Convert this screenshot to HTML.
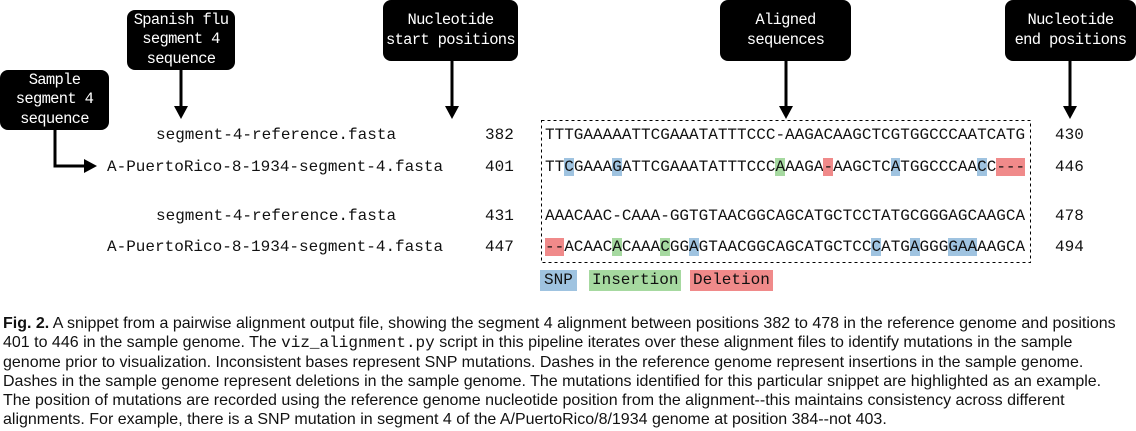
<!DOCTYPE html>
<html><head><meta charset="utf-8"><style>
body{margin:0;width:1136px;height:431px;position:relative;background:#fff;overflow:hidden;font-family:"Liberation Mono",monospace;}
.box{position:absolute;background:#000;color:#fff;border-radius:8px;font-size:15.5px;letter-spacing:-0.7px;line-height:19.5px;text-align:center;display:flex;align-items:center;justify-content:center;white-space:nowrap;}
.t{position:absolute;font-size:16px;line-height:20px;white-space:pre;color:#111;}
.b{background:#9fc3e0}.g{background:#a6d9a0}.r{background:#f08a8a}
.cap{position:absolute;left:3px;top:314px;width:1133px;font-family:"Liberation Sans",sans-serif;font-size:16px;line-height:19px;color:#111;white-space:nowrap;}
.cap code{font-family:"Liberation Mono",monospace;font-size:16px;}
</style></head><body>
<div class="box" style="left:127px;top:10px;width:108px;height:60px">Spanish flu<br>segment 4<br>sequence</div>
<div class="box" style="left:0;top:70px;width:109px;height:60px">Sample<br>segment 4<br>sequence</div>
<div class="box" style="left:383px;top:0;width:135px;height:61px">Nucleotide<br>start positions</div>
<div class="box" style="left:720px;top:0;width:131px;height:61px">Aligned<br>sequences</div>
<div class="box" style="left:1005px;top:0;width:131px;height:61px">Nucleotide<br>end positions</div>
<svg style="position:absolute;left:0;top:0" width="1136" height="431">
<g stroke="#000" stroke-width="3" fill="none">
<line x1="181" y1="70" x2="181" y2="110"/>
<line x1="452" y1="61" x2="452" y2="110"/>
<line x1="786" y1="61" x2="786" y2="110"/>
<line x1="1070" y1="61" x2="1070" y2="110"/>
<polyline points="55,130 55,166 86,166"/>
</g>
<g fill="#000">
<polygon points="174,106 188,106 181,119"/>
<polygon points="445,106 459,106 452,119"/>
<polygon points="779,106 793,106 786,119"/>
<polygon points="1063,106 1077,106 1070,119"/>
<polygon points="84,159 84,173 97,166"/>
</g>
<rect x="541.5" y="120.5" width="489" height="142" fill="none" stroke="#000" stroke-width="1" stroke-dasharray="3,3"/>
</svg>
<div class="t" style="left:156px;top:125px">segment-4-reference.fasta</div>
<div class="t" style="left:107px;top:157px">A-PuertoRico-8-1934-segment-4.fasta</div>
<div class="t" style="left:156px;top:206px">segment-4-reference.fasta</div>
<div class="t" style="left:107px;top:237px">A-PuertoRico-8-1934-segment-4.fasta</div>
<div class="t" style="left:485px;top:125px">382</div>
<div class="t" style="left:485px;top:157px">401</div>
<div class="t" style="left:485px;top:206px">431</div>
<div class="t" style="left:485px;top:237px">447</div>
<div class="t" style="left:1055px;top:125px">430</div>
<div class="t" style="left:1055px;top:157px">446</div>
<div class="t" style="left:1055px;top:206px">478</div>
<div class="t" style="left:1055px;top:237px">494</div>
<div class="t" style="left:545px;top:125px">TTTGAAAAATTCGAAATATTTCCC-AAGACAAGCTCGTGGCCCAATCATG</div>
<div class="t" style="left:545px;top:157px">TT<span class="b">C</span>GAAA<span class="b">G</span>ATTCGAAATATTTCCC<span class="g">A</span>AAGA<span class="r">-</span>AAGCTC<span class="b">A</span>TGGCCCAA<span class="b">C</span>C<span class="r">---</span></div>
<div class="t" style="left:545px;top:206px">AAACAAC-CAAA-GGTGTAACGGCAGCATGCTCCTATGCGGGAGCAAGCA</div>
<div class="t" style="left:545px;top:237px"><span class="r">--</span>ACAAC<span class="g">A</span>CAAA<span class="g">C</span>GG<span class="b">A</span>GTAACGGCAGCATGCTCC<span class="b">C</span>ATG<span class="b">A</span>GGG<span class="b">GAA</span>AAGCA</div>
<div class="t b" style="left:540px;top:270px;height:21px;line-height:21px;padding:0 4px">SNP</div>
<div class="t g" style="left:589px;top:270px;height:21px;line-height:21px;padding:0 3px">Insertion</div>
<div class="t r" style="left:690px;top:270px;height:21px;line-height:21px;padding:0 3px">Deletion</div>
<div class="cap"><b>Fig. 2.</b> A snippet from a pairwise alignment output file, showing the segment 4 alignment between positions 382 to 478 in the reference genome and positions<br>401 to 446 in the sample genome. The <code>viz_alignment.py</code> script in this pipeline iterates over these alignment files to identify mutations in the sample<br>genome prior to visualization. Inconsistent bases represent SNP mutations. Dashes in the reference genome represent insertions in the sample genome.<br>Dashes in the sample genome represent deletions in the sample genome. The mutations identified for this particular snippet are highlighted as an example.<br>The position of mutations are recorded using the reference genome nucleotide position from the alignment--this maintains consistency across different<br>alignments. For example, there is a SNP mutation in segment 4 of the A/PuertoRico/8/1934 genome at position 384--not 403.</div>
</body></html>
